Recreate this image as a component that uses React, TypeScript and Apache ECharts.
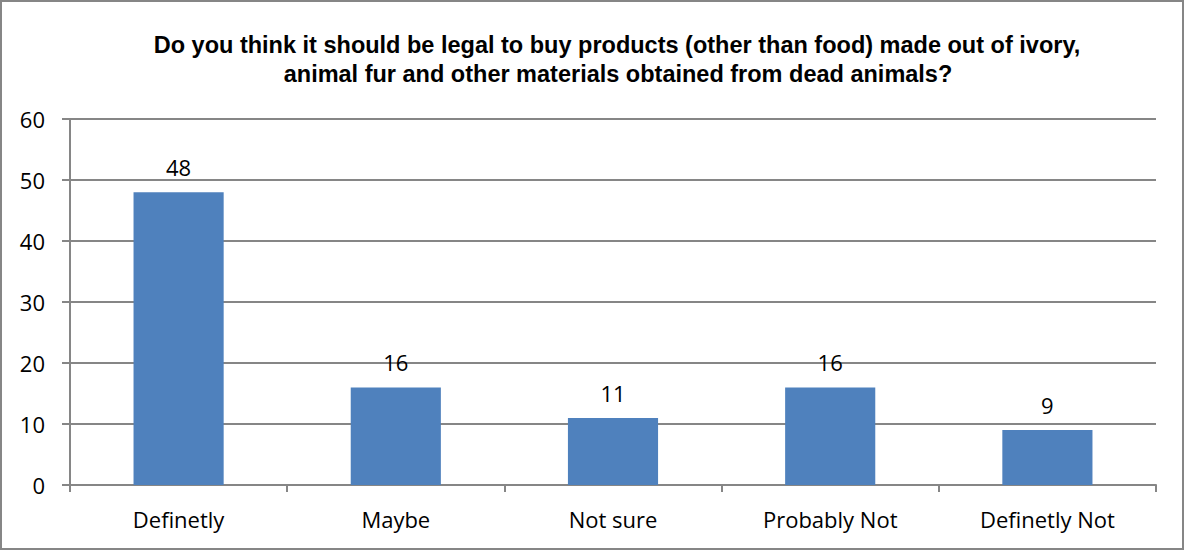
import React, { useEffect, useRef } from "react";
import * as echarts from "echarts";

const categories = ["Definetly", "Maybe", "Not sure", "Probably Not", "Definetly Not"];
const values = [48, 16, 11, 16, 9];
const titleLines = [
  "Do you think it should be legal to buy products (other than food) made out of ivory,",
  "animal fur and other materials obtained from dead animals?",
];

export default function App() {
  const ref = useRef<HTMLDivElement>(null);
  useEffect(() => {
    document.body.style.margin = "0";
    const chart = echarts.init(ref.current!, null, { renderer: "svg" });
    const gray = "#868686";
    const titleStyle = {
      fontFamily: "Liberation Sans",
      fontWeight: "bold",
      fontSize: 23.5,
      fill: "#000",
      textAlign: "center",
      textVerticalAlign: "middle",
    };
    chart.setOption({
      animation: false,
      backgroundColor: "#ffffff",
      graphic: [
        {
          type: "rect",
          shape: { x: 1, y: 1, width: 1182, height: 548 },
          style: { fill: "none", stroke: gray, lineWidth: 2 },
          silent: true,
        },
        {
          type: "text",
          x: 617,
          y: 45,
          style: { ...titleStyle, text: titleLines[0] },
          silent: true,
        },
        {
          type: "text",
          x: 618,
          y: 74,
          style: { ...titleStyle, text: titleLines[1] },
          silent: true,
        },
      ],
      grid: { left: 70, right: 29, top: 119, bottom: 65 },
      xAxis: {
        type: "category",
        data: categories,
        axisLine: { lineStyle: { color: gray, width: 2 } },
        axisTick: { show: true, length: 7, lineStyle: { color: gray, width: 2 } },
        axisLabel: { color: "#000", fontFamily: "Open Sans", fontSize: 22, margin: 23 },
      },
      yAxis: {
        type: "value",
        min: 0,
        max: 60,
        interval: 10,
        axisLine: { show: true, lineStyle: { color: gray, width: 2 } },
        axisTick: { show: true, length: 8, lineStyle: { color: gray, width: 2 } },
        axisLabel: { color: "#000", fontFamily: "Open Sans", fontSize: 22, margin: 25 },
        splitLine: { show: true, lineStyle: { color: gray, width: 2 } },
      },
      series: [
        {
          type: "bar",
          data: values,
          barWidth: "41.5%",
          itemStyle: { color: "#4F81BD" },
          label: {
            show: true,
            position: "top",
            distance: 14,
            color: "#000",
            fontFamily: "Open Sans",
            fontSize: 22,
          },
        },
      ],
    });
    return () => chart.dispose();
  }, []);
  return <div ref={ref} style={{ position: "absolute", left: 0, top: 0, width: 1185, height: 550 }} />;
}
